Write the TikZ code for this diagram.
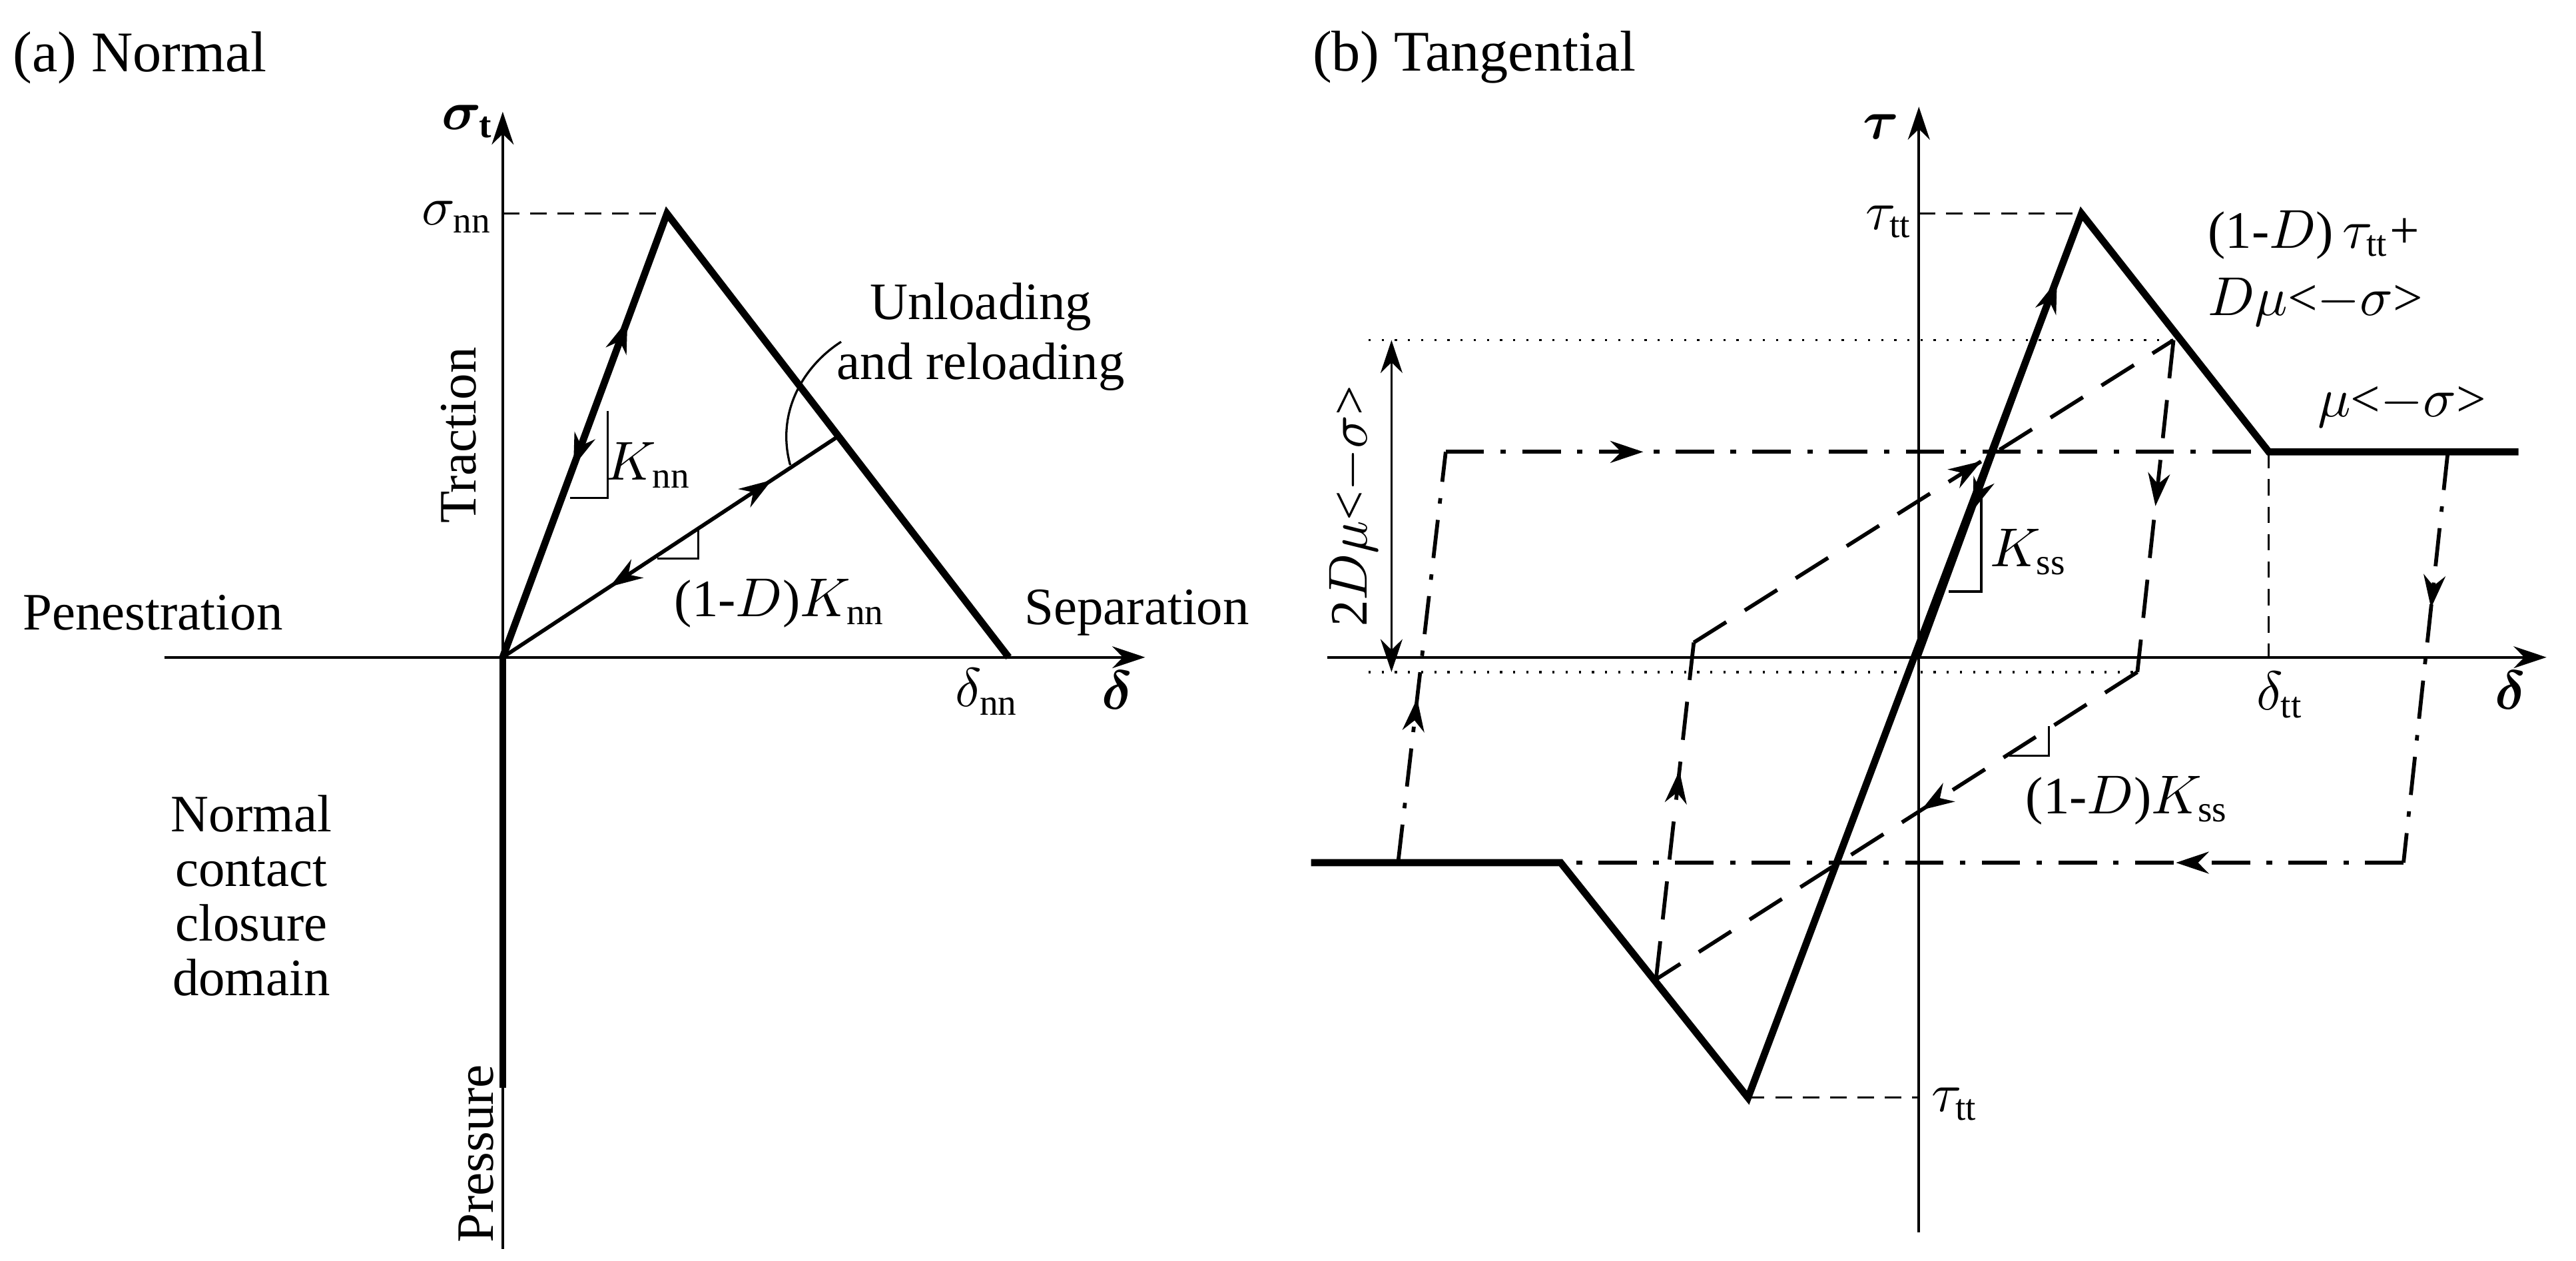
\documentclass[tikz,border=0pt]{standalone}
\usepackage{fontspec}
\setmainfont{Liberation Serif}
\usepackage{bm}
\usetikzlibrary{arrows.meta,decorations.markings}
\tikzset{
  axis/.style={line width=0.45pt,-{Stealth[length=6pt,width=4pt]}},
  curve/.style={line width=1.3pt},
  branch/.style={line width=0.7pt},
  longdash/.style={line width=0.7pt,dash pattern=on 7pt off 4pt},
  dashdot/.style={line width=0.7pt,dash pattern=on 7pt off 3pt on 1pt off 3pt},
  thin dash/.style={line width=0.4pt,dash pattern=on 3pt off 2pt},
  dots/.style={line width=0.4pt,dotted},
  fwd/.style={postaction={decorate,decoration={markings,mark=at position #1 with {\arrow{Stealth[length=6pt,width=4pt]}}}}},
  bwd/.style={postaction={decorate,decoration={markings,mark=at position #1 with {\arrow{Stealth[length=6pt,width=4pt,reversed]}}}}},
  lbl/.style={font=\rmfamily\fontsize{9.6}{11}\selectfont,inner sep=1pt},
}
\begin{document}
\begin{tikzpicture}[x=0.3pt,y=-0.3pt]
\useasboundingbox (0,0) rectangle (1568,767);
% (a) normal
\node[lbl,anchor=west] (ta) at (4,35) {\fontsize{10.5}{12}\selectfont(a) Normal};
\coordinate (o1) at (306,400);
\coordinate (p1) at (406,130);
\coordinate (d1) at (614,400);
\coordinate (u1) at (511,265);
\draw[axis] (306,760) -- (306,68);
\draw[axis] (100,400) -- (697,400);
\draw[thin dash] (306,130) -- (p1);
\draw[curve] (o1) -- (p1) -- (d1);
\draw[curve] (o1) -- (306,662);
\draw[branch,fwd=0.76,bwd=0.5] (o1) -- (p1);
\draw[branch,fwd=0.8,bwd=0.4] (o1) -- (u1);
\draw[line width=0.4pt] (370,250) -- (370,303) -- (347,303);
\draw[line width=0.4pt] (425,322) -- (425,340) -- (400,340);
\draw[line width=0.4pt] (481,283) .. controls (472,250) and (490,222) .. (512,208);
\node[lbl] (st) at (285,74) {$\bm{\sigma}_{\mathbf{t}}$};
\node[lbl,anchor=east] (snn) at (304,132) {$\sigma_{\mathrm{nn}}$};
\node[lbl] (dnn) at (601,421) {$\delta_{\mathrm{nn}}$};
\node[lbl] (dl1) at (680,420) {$\bm{\delta}$};
\node[lbl,rotate=90] (trac) at (279,265) {Traction};
\node[lbl,rotate=90] (pres) at (290,702) {Pressure};
\node[lbl] (pen) at (93,373) {Penestration};
\node[lbl] (sep) at (692,373) {Separation};
\node[lbl,align=center] (ncc) at (153,545) {Normal\\[-1pt]contact\\[-1pt]closure\\[-1pt]domain};
\node[lbl,align=center] (unl) at (597,205) {Unloading\\and reloading};
\node[lbl] (knn) at (395,283) {$K_{\mathrm{nn}}$};
\node[lbl] (dknn) at (475,367) {(1-$D$)$K_{\mathrm{nn}}$};
% (b) tangential
\node[lbl,anchor=west] (tb) at (795,35) {\fontsize{10.5}{12}\selectfont(b) Tangential};
\coordinate (o2) at (1168,400);
\coordinate (p2) at (1267,130);
\coordinate (r2) at (1381,275);
\coordinate (l2) at (950,525);
\coordinate (q2) at (1064,668);
\draw[axis] (1168,750) -- (1168,65);
\draw[axis] (808,400) -- (1550,400);
\draw[thin dash] (1168,130) -- (p2);
\draw[thin dash] (q2) -- (1168,668);
\draw[thin dash] (r2) -- (1381,400);
\draw[dots] (833,207) -- (1323,207);
\draw[dots] (833,409) -- (1301,409);
\draw[{Stealth[length=6pt,width=4pt]}-{Stealth[length=6pt,width=4pt]},line width=0.45pt] (847,207) -- (847,409);
\draw[curve] (1533,275) -- (r2) -- (p2) -- (q2) -- (l2) -- (798,525);
\draw[branch,fwd=0.85,bwd=0.4] (o2) -- (p2);
% dashed cycle
\draw[longdash,fwd=0.6] (1031,391) -- (1323,207);
\draw[longdash,fwd=0.5] (1323,207) -- (1301,409);
\draw[longdash,fwd=0.45] (1301,409) -- (1008,596);
\draw[longdash,fwd=0.62] (1008,596) -- (1031,391);
% dash-dot cycle
\draw[dashdot,fwd=0.24] (880,275) -- (r2);
\draw[dashdot,fwd=0.38] (1490,275) -- (1463,525);
\draw[dashdot,fwd=0.27] (1463,525) -- (l2);
\draw[dashdot,fwd=0.4] (851,525) -- (880,275);
\draw[line width=0.4pt] (1206,299) -- (1206,360) -- (1186,360);
\draw[line width=0.4pt] (1247,442) -- (1247,460) -- (1223,460);
\node[lbl] (tau) at (1145,77) {$\bm{\tau}$};
\node[lbl] (ttt1) at (1150,135) {$\tau_{\mathrm{tt}}$};
\node[lbl] (ttt2) at (1190,672) {$\tau_{\mathrm{tt}}$};
\node[lbl] (dtt) at (1388,423) {$\delta_{\mathrm{tt}}$};
\node[lbl] (dl2) at (1528,420) {$\bm{\delta}$};
\node[lbl,anchor=west] (res1) at (1340,143) {(1-$D$)\,$\tau_{\mathrm{tt}}$+};
\node[lbl,anchor=west] (res2) at (1340,184) {$D\mu$<$-\sigma$>};
\node[lbl] (mu) at (1462,247) {$\mu$<$-\sigma$>};
\node[lbl,rotate=90] (dmu) at (824,308) {2$D\mu$<$-\sigma$>};
\node[lbl] (kss) at (1235,336) {$K_{\mathrm{ss}}$};
\node[lbl] (dkss) at (1295,487) {(1-$D$)$K_{\mathrm{ss}}$};
\end{tikzpicture}
\end{document}
